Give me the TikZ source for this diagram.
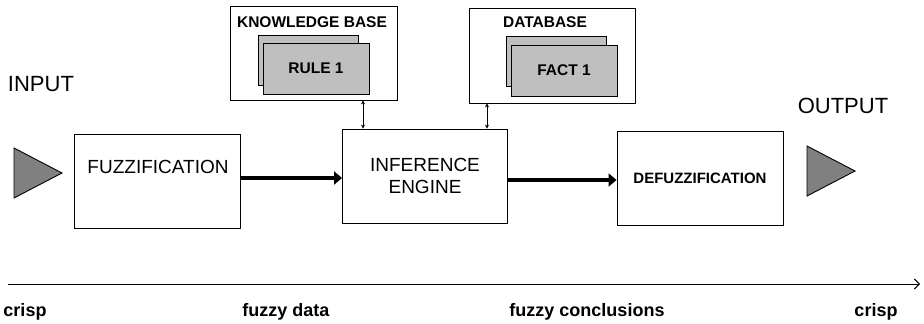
\documentclass[tikz,border=0pt]{standalone}
\usepackage{fontspec}
\setmainfont{Liberation Sans}
\usetikzlibrary{arrows.meta,calc,positioning}
\tikzset{
  block/.style = {draw, line width=0.9pt, fill=white, inner sep=0pt},
  card/.style  = {draw, line width=0.9pt, fill=gray!50!white, inner sep=0pt,
                  minimum width=106pt, minimum height=51pt},
  tri/.style   = {draw, line width=0.9pt, fill=gray},
  flow/.style  = {-{Triangle[length=8pt,width=13pt]}, line width=4pt},
  link/.style  = {{Stealth[length=4pt,width=4pt]}-{Stealth[length=4pt,width=4pt]}, line width=0.6pt},
  axis/.style  = {-{Straight Barb[length=5pt,width=10pt]}, line width=0.9pt},
  big/.style   = {font=\fontsize{22}{24}\selectfont},
  mid/.style   = {font=\fontsize{19}{22}\selectfont},
  tag/.style   = {font=\bfseries\fontsize{15.5}{18}\selectfont},
  note/.style  = {font=\bfseries\fontsize{18}{20}\selectfont},
}
\begin{document}
\begin{tikzpicture}[x=1pt,y=-1pt]
  \useasboundingbox (0,0) rectangle (924,324);

  % main chain
  \node[block, minimum width=166pt, minimum height=94pt] (fuzz) at (157,181) {};
  \node[mid] (fuzztext) at (158,167) {FUZZIFICATION};
  \node[block, minimum width=165pt, minimum height=94pt, mid, align=center] (infer) at (425,176)
      {INFERENCE\\ENGINE};
  \node[block, minimum width=166pt, minimum height=94pt, tag, font=\bfseries\fontsize{15}{18}\selectfont] (defuzz) at (700,178)
      {DEFUZZIFICATION};

  % knowledge base with its rule cards
  \node[block, minimum width=167pt, minimum height=94pt] (kb) at (313.5,53) {};
  \node[tag] (kbtitle) at (312,22) {KNOWLEDGE BASE};
  \node[card, minimum width=100pt, minimum height=50pt] (ruleback) at (308,60) {};
  \node[card, tag] (rule) at (316,68.5) {RULE 1};

  % database with its fact cards
  \node[block, minimum width=166pt, minimum height=95pt] (db) at (552,55.5) {};
  \node[tag] (dbtitle) at (545,22) {DATABASE};
  \node[card, minimum width=100pt, minimum height=50pt] (factback) at (556,61) {};
  \node[card, tag] (fact) at (564,70.5) {FACT 1};

  % input and output
  \node[big] (input) at (41,84) {INPUT};
  \node[big] (output) at (843,106) {OUTPUT};
  \draw[tri] (14,148) -- (62,173) -- (14,198) -- cycle;
  \draw[tri] (807,146) -- (855,171) -- (807,196) -- cycle;

  % connectors
  \draw[flow] (fuzz.east) ++(0,-3) -- ($(infer.west)+(0,2)$);
  \draw[flow] ($(infer.east)+(0,4)$) -- ($(defuzz.west)+(0,2)$);
  \draw[link] (kb.south -| 363,0) -- (infer.north -| 363,0);
  \draw[link] (db.south -| 487,0) -- (infer.north -| 487,0);

  % crisp / fuzzy axis
  \coordinate (axstart) at (8,284);
  \coordinate (axend) at (920,284);
  \draw[axis] (axstart) -- (axend);
  \node[note] (crispin) at (25,312) {crisp};
  \node[note] (fdata) at (286,312) {fuzzy data};
  \node[note] (fconc) at (587,312) {fuzzy conclusions};
  \node[note] (crispout) at (876,312) {crisp};
\end{tikzpicture}
\end{document}
